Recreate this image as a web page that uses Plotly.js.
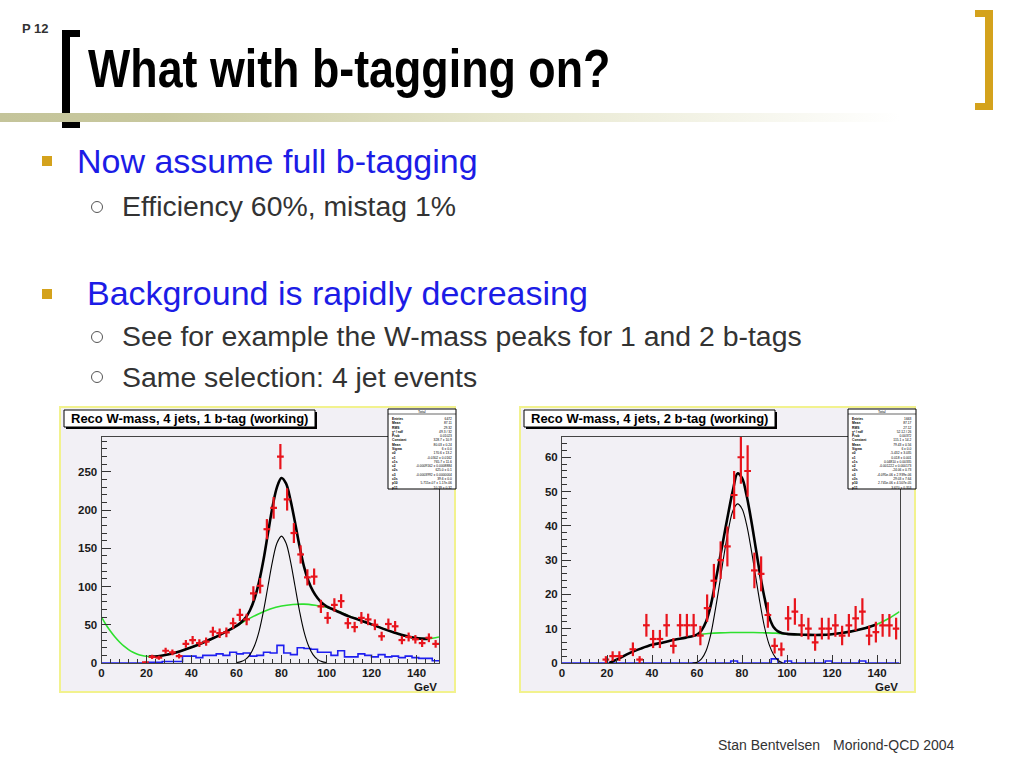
<!DOCTYPE html>
<html>
<head>
<meta charset="utf-8">
<script src="https://cdn.plot.ly/plotly-3.0.1.min.js"></script>
<style>
  html, body { margin:0; padding:0; background:#ffffff; }
  #slide { position:relative; width:1024px; height:768px; overflow:hidden; background:#ffffff; font-family:'Liberation Sans', Arial, sans-serif; }
  .abs { position:absolute; white-space:nowrap; line-height:1; }
  #plot { position:absolute; left:0; top:0; width:1024px; height:768px; }
</style>
</head>
<body>
<div id="slide">
  <div class="abs" style="left:22px;top:22px;font-weight:bold;font-size:13px;color:#333;">P 12</div>
  <!-- left black bracket -->
  <div class="abs" style="left:62px;top:30px;width:8px;height:98px;background:#000;"></div>
  <div class="abs" style="left:62px;top:30px;width:18px;height:7px;background:#000;"></div>
  <div class="abs" style="left:62px;top:121px;width:18px;height:7px;background:#000;"></div>
  <!-- right gold bracket -->
  <div class="abs" style="left:985px;top:10px;width:8px;height:100px;background:#d4a21c;"></div>
  <div class="abs" style="left:975px;top:10px;width:18px;height:7px;background:#d4a21c;"></div>
  <div class="abs" style="left:975px;top:103px;width:18px;height:7px;background:#d4a21c;"></div>
  <!-- gradient bar -->
  <div class="abs" style="left:0px;top:113px;width:900px;height:9px;background:linear-gradient(to right,#c4c49a 0%,#c8c89e 18%,#e6e6cc 55%,#ffffff 100%);"></div>
  <div class="abs" style="left:88px;top:42px;font-weight:bold;font-size:53px;color:#000;transform:scaleX(0.845);transform-origin:left top;">What with b-tagging on?</div>

  <div class="abs" style="left:42px;top:156px;width:10px;height:10px;background:#d4a21c;"></div>
  <div class="abs" style="left:77px;top:144px;font-size:34px;color:#1c1ce6;">Now assume full b-tagging</div>
  <div class="abs" style="left:91px;top:201px;width:10px;height:10px;border:1.3px solid #555;border-radius:50%;"></div>
  <div class="abs" style="left:122px;top:192px;font-size:28.4px;color:#333;">Efficiency 60%, mistag 1%</div>

  <div class="abs" style="left:42px;top:289px;width:10px;height:10px;background:#d4a21c;"></div>
  <div class="abs" style="left:87px;top:276px;font-size:34px;color:#1c1ce6;">Background is rapidly decreasing</div>
  <div class="abs" style="left:91px;top:331px;width:10px;height:10px;border:1.3px solid #555;border-radius:50%;"></div>
  <div class="abs" style="left:122px;top:322px;font-size:28.4px;color:#333;">See for example the W-mass peaks for 1 and 2 b-tags</div>
  <div class="abs" style="left:91px;top:371px;width:10px;height:10px;border:1.3px solid #555;border-radius:50%;"></div>
  <div class="abs" style="left:122px;top:363px;font-size:28.4px;color:#333;">Same selection: 4 jet events</div>

  <div class="abs" style="left:718px;top:738px;font-size:14px;color:#333;">Stan Bentvelsen</div>
  <div class="abs" style="left:833px;top:738px;font-size:14px;color:#333;">Moriond-QCD 2004</div>
  <div id="plot"></div>
</div>
<script>
// ---------------- data: 1 b-tag ----------------
const binWidth = 3;
const tag1DataX = [19.5,22.5,25.5,28.5,31.5,34.5,37.5,40.5,43.5,46.5,49.5,52.5,55.5,58.5,61.5,64.5,67.5,70.5,73.5,76.5,79.5,82.5,85.5,88.5,91.5,94.5,97.5,100.5,103.5,106.5,109.5,112.5,115.5,118.5,121.5,124.5,127.5,130.5,133.5,136.5,139.5,142.5,145.5,148.5];
const tag1DataY = [1,8,7,16,14,9,25,30,26,28,41,39,40,52,63,57,91,101,175,203,270,214,170,142,112,113,74,59,76,81,52,47,59,57,50,35,51,48,30,34,31,26,33,25];
const tag1Blue = [0,0,0,0,0,0,0,1,1,2,2,2,9,9,7,10,10,12,10,14,12,13,9,10,14,13,23,13,11,20,19,18,14,14,10,16,8,8,12,10,8,11,8,9,7,9,7,6,6,3];
const tag1GreenX = [0,2,4,6,8,10,12,14,16,18,20,22,25,30,35,40,45,50,55,60,65,70,75,80,85,90,95,100,105,110,115,120,125,130,135,140,145,150];
const tag1GreenY = [60,50,41.5,34,27.5,22,17.5,14,11.5,9.8,8.8,8.4,8.8,11.5,15.5,20.5,26.5,33,40.5,48.5,57,64.5,70.5,74.5,76.5,77,75.5,73,68,61.5,56,50.5,45,40,35.5,32.5,31.5,34];
const tag1GausX = [60,62,64,66,68,70,72,74,76,78,80,82,84,86,88,90,92,94,96,98,100];
const tag1GausY = [0.6,1.8,4.7,10.9,22.5,41,68,100.7,133,157,166,157,133,100.7,68,41,22.5,10.9,4.7,1.8,0.6];
const tag1FitX = [21,25,30,35,40,45,50,55,60,62,64,66,68,70,72,74,76,78,80,82,84,86,88,90,92,94,96,98,100,103,106,110,115,120,125,130,135,140,145];
const tag1FitY = [8.5,8.8,11.5,15.5,20.5,26.5,33,40.5,48.5,53,59,69,84,106,135,170,204,230,242,235,213,184,153,126,107,94,85,78.5,74,70,66,61,56,50.5,45,40,35.5,32.5,31.5];

// ---------------- data: 2 b-tags ----------------
const tag2DataX = [19.5,22.5,25.5,31.5,34.5,37.5,40.5,43.5,46.5,49.5,52.5,55.5,58.5,61.5,64.5,67.5,70.5,73.5,76.5,79.5,82.5,85.5,88.5,91.5,94.5,97.5,100.5,103.5,106.5,109.5,112.5,115.5,118.5,121.5,124.5,127.5,130.5,133.5,136.5,139.5,142.5,145.5,148.5];
const tag2DataY = [1,2,2,4,1,11,7,7,11,5,11,11,11,8,16,24,30,34,49,60,56,27,26,14,5,4,13,15,11,10,6,10,10,11,8,11,13,15,8,9,11,11,10];
const tag2Blue = [0,0,0,0,0,0,0,0,0,0,0,0,0,0,0,0,0,0,0,0,0,0,0,0,0,0.6,0,0,0,0,0,1.2,0,0.6,0,0,0,0,0,0.6,0,0,0,0,0.6,0,0,0,0,0];
const tag2GreenX = [60,65,70,75,80,85,90,95,100,105,110,115,120,125,130,135,140,145,150];
const tag2GreenY = [8.3,8.6,8.8,8.9,8.9,8.9,8.8,8.7,8.5,8.3,8.2,8.2,8.4,8.8,9.4,10.2,11.3,12.9,15.0];
const tag2GausX = [58,60,62,64,66,68,70,72,74,76,78,80,82,84,86,88,90,92,94,96,98];
const tag2GausY = [0,0.2,1.2,3.5,8,15,23,31.5,39,44.5,46.4,45,40.5,33.5,25.5,17.5,10.5,5.5,2.5,0.8,0.1];
const tag2FitX = [21,25,30,35,40,45,50,55,60,62,64,66,68,70,72,74,76,78,80,82,84,86,88,90,92,94,96,98,100,105,110,115,120,125,130,135,140];
const tag2FitY = [0,1.2,2.9,4.2,5.3,6.0,6.8,7.4,8.3,9.5,12,16.5,23,30,37,44,50.5,55.3,54,49,42,34,26,19,13.5,10.5,9.2,8.7,8.5,8.3,8.2,8.2,8.4,8.8,9.4,10.2,11.3];

// ---------------- texts ----------------
const titles = ["Reco W-mass, 4 jets, 1 b-tag (working)", "Reco W-mass, 4 jets, 2 b-tag (working)"];
const axisUnit = "GeV";
const statNames = ["Entries","Mean","RMS","χ² / ndf","Prob","Constant","Mean","Sigma","c0","c1","c1s","c2","c2s","c3","c3s","p10","p11"];
const stat1Values = ["6472","87.11","29.32","49.3 / 32","0.01023","328.7 ± 10.9","80.03 ± 0.24","6 ± 0.0","170.6 ± 13.2","-0.0302 ± 0.0162","765.7 ± 11.6","-0.0009162 ± 0.0008884","625.0 ± 0.1","-0.0003992 ± 0.0000004","39.6 ± 0.0","5.715e-07 ± 1.17e-06","10.39 ± 0.32"];
const stat2Values = ["1663","87.17","27.12","52.12 / 26","0.00372","115.1 ± 14.2","79.43 ± 0.56","6 ± 0.0","-5.432 ± 3.035","0.018 ± 0.001","0.04810 ± 0.00335","-0.001222 ± 0.000173","-24.06 ± 0.73","-4.095e-06 ± 2.939e-06","29.03 ± 7.64","2.745e-06 ± 4.507e-05","3.670 ± 0.353"];
const statHeader = "Total";

// ---------------- build ----------------
const W = 1024, H = 768;
const px = x => x / W;
const py = y => 1 - y / H;

function histStep(vals){
  const xs = [], ys = [];
  vals.forEach((v,i)=>{ xs.push(i*binWidth); ys.push(v); });
  xs.push(vals.length*binWidth); ys.push(vals[vals.length-1]);
  return {xs, ys};
}

function panelTraces(xa, ya, blue, gX, gY, tX, tY, fX, fY, dX, dY){
  const h = histStep(blue);
  return [
    {x:h.xs, y:h.ys, xaxis:xa, yaxis:ya, mode:'lines', line:{shape:'hv', color:'#1e1ef0', width:1.6}, hoverinfo:'skip'},
    {x:gX, y:gY, xaxis:xa, yaxis:ya, mode:'lines', line:{shape:'spline', color:'#2ee02e', width:1.6}, hoverinfo:'skip'},
    {x:tX, y:tY, xaxis:xa, yaxis:ya, mode:'lines', line:{shape:'spline', color:'#000000', width:1.1}, hoverinfo:'skip'},
    {x:fX, y:fY, xaxis:xa, yaxis:ya, mode:'lines', line:{shape:'spline', color:'#000000', width:2.6}, hoverinfo:'skip'},
    {x:dX, y:dY, xaxis:xa, yaxis:ya, mode:'markers', marker:{size:1, color:'rgba(0,0,0,0)'},
      error_y:{type:'sqrt', color:'#e8141c', thickness:2.2, width:0},
      error_x:{type:'constant', value:binWidth/2, color:'#e8141c', thickness:2.2, width:0}, hoverinfo:'skip'}
  ];
}

const data = [].concat(
  panelTraces('x','y', tag1Blue, tag1GreenX, tag1GreenY, tag1GausX, tag1GausY, tag1FitX, tag1FitY, tag1DataX, tag1DataY),
  panelTraces('x2','y2', tag2Blue, tag2GreenX, tag2GreenY, tag2GausX, tag2GausY, tag2FitX, tag2FitY, tag2DataX, tag2DataY)
);

const tickFont = {family:'Liberation Sans, Arial, sans-serif', size:11.5, color:'#1a1a1a', weight:'bold'};
function xAxis(dom, anchor){
  return {domain:dom, anchor:anchor, range:[0,150], dtick:20, tick0:0, ticks:'inside', ticklen:8, tickwidth:1, tickcolor:'#333',
    minor:{dtick:4, ticklen:4, ticks:'inside', tickcolor:'#333', tickwidth:1},
    showline:true, linecolor:'#444', linewidth:1, mirror:true, showgrid:false, zeroline:false, tickfont:tickFont, fixedrange:true, ticklabelstandoff:-1};
}
function yAxis(dom, anchor, maxv, major, minor){
  return {domain:dom, anchor:anchor, range:[0,maxv], dtick:major, tick0:0, ticks:'inside', ticklen:9, tickwidth:1, tickcolor:'#333',
    minor:{dtick:minor, ticklen:5, ticks:'inside', tickcolor:'#333', tickwidth:1},
    showline:true, linecolor:'#444', linewidth:1, mirror:true, showgrid:false, zeroline:false, tickfont:tickFont, fixedrange:true, ticklabelstandoff:1};
}

const yDom = [py(663), py(436.7)];
const shapes = [];
const annotations = [];
function panelDecor(fx0, fx1, tx0, tx1, sx0, sx1, title, vals){
  shapes.push({type:'rect', xref:'paper', yref:'paper', x0:px(fx0), x1:px(fx1), y0:py(692), y1:py(407), fillcolor:'#f2f0f5', line:{color:'#f2f28e', width:2}, layer:'below'});
  shapes.push({type:'rect', xref:'paper', yref:'paper', x0:px(tx0+2), x1:px(tx1+2), y0:py(429), y1:py(412), fillcolor:'#000', line:{width:0}, layer:'above'});
  shapes.push({type:'rect', xref:'paper', yref:'paper', x0:px(tx0), x1:px(tx1), y0:py(427), y1:py(410), fillcolor:'#fff', line:{color:'#000', width:1}, layer:'above'});
  annotations.push({xref:'paper', yref:'paper', x:px((tx0+tx1)/2), y:py(418.5), xanchor:'center', yanchor:'middle', showarrow:false, text:title,
    font:{family:'Liberation Sans, Arial, sans-serif', size:13, color:'#000', weight:'bold'}});
  shapes.push({type:'rect', xref:'paper', yref:'paper', x0:px(sx0), x1:px(sx1), y0:py(489), y1:py(409), fillcolor:'#fff', line:{color:'#000', width:1}, layer:'above'});
  shapes.push({type:'line', xref:'paper', yref:'paper', x0:px(sx0), x1:px(sx1), y0:py(414), y1:py(414), line:{color:'#000', width:0.6}, layer:'above'});
  annotations.push({xref:'paper', yref:'paper', x:px((sx0+sx1)/2), y:py(411.5), xanchor:'center', yanchor:'middle', showarrow:false, text:statHeader,
    font:{family:'Liberation Sans, Arial, sans-serif', size:3.6, color:'#000'}});
  annotations.push({xref:'paper', yref:'paper', x:px(sx0+2), y:py(415), xanchor:'left', yanchor:'top', align:'left', showarrow:false,
    text:statNames.join('<br>'), font:{family:'Liberation Sans, Arial, sans-serif', size:3.3, color:'#000', weight:'bold'}});
  annotations.push({xref:'paper', yref:'paper', x:px(sx1-2), y:py(415), xanchor:'right', yanchor:'top', align:'right', showarrow:false,
    text:vals.join('<br>'), font:{family:'Liberation Sans, Arial, sans-serif', size:3.3, color:'#000'}});
}
panelDecor(60, 455, 64, 315, 388, 456, titles[0], stat1Values);
panelDecor(520, 915, 524, 775, 848, 916, titles[1], stat2Values);

annotations.push({xref:'paper', yref:'paper', x:px(439), y:py(679), xanchor:'right', yanchor:'top', showarrow:false, text:axisUnit,
  font:{family:'Liberation Sans, Arial, sans-serif', size:11.5, color:'#1a1a1a', weight:'bold'}});
annotations.push({xref:'paper', yref:'paper', x:px(899.5), y:py(679), xanchor:'right', yanchor:'top', showarrow:false, text:axisUnit,
  font:{family:'Liberation Sans, Arial, sans-serif', size:11.5, color:'#1a1a1a', weight:'bold'}});

const layout = {
  width:W, height:H, margin:{l:0, r:0, t:0, b:0}, paper_bgcolor:'rgba(0,0,0,0)', plot_bgcolor:'rgba(0,0,0,0)', showlegend:false,
  xaxis: xAxis([px(101.5), px(439)], 'y'),
  yaxis: yAxis(yDom, 'x', 296, 50, 10),
  xaxis2: xAxis([px(562), px(899.5)], 'y2'),
  yaxis2: yAxis(yDom, 'x2', 66, 10, 2),
  shapes: shapes, annotations: annotations
};
Plotly.newPlot('plot', data, layout, {staticPlot:true, displayModeBar:false});
</script>
</body>
</html>
